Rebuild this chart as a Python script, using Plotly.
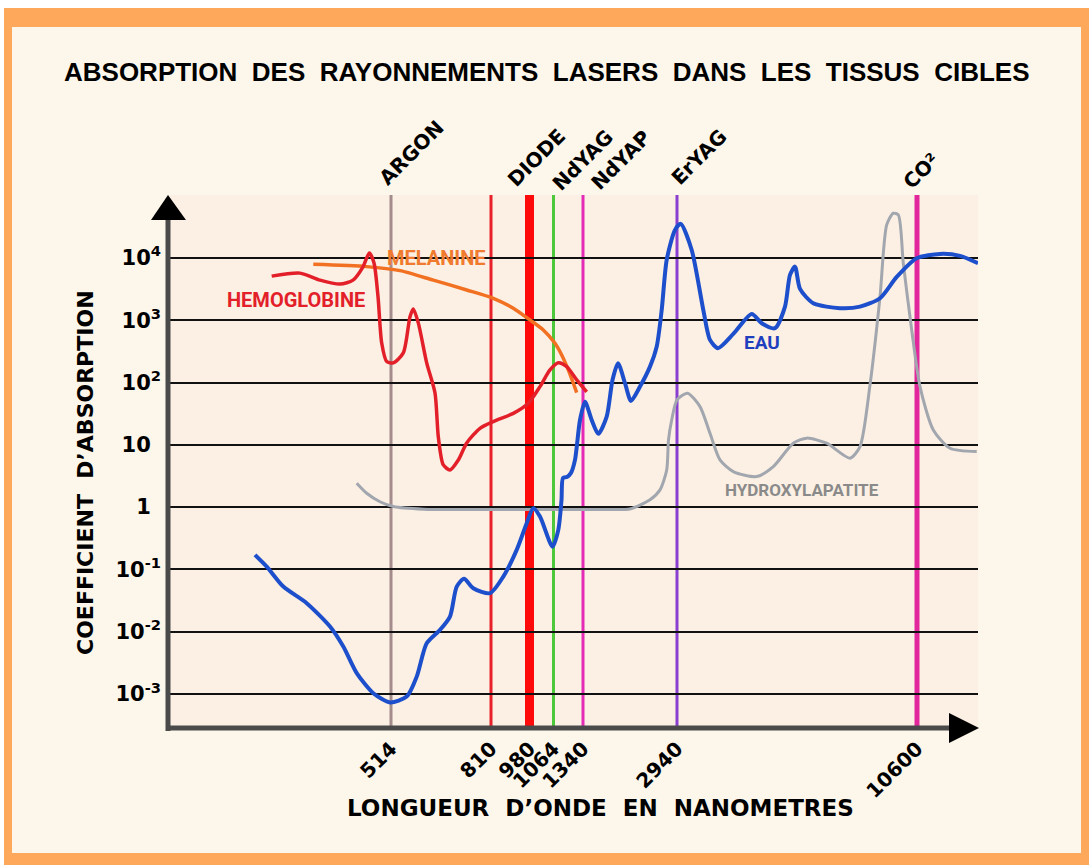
import plotly.graph_objects as go

# ------------------------------------------------------------------ data
TITLE = "ABSORPTION  DES  RAYONNEMENTS  LASERS  DANS  LES  TISSUS  CIBLES"
X_TITLE = "LONGUEUR  D’ONDE  EN  NANOMETRES"
Y_TITLE = "COEFFICIENT  D’ABSORPTION"

# schematic (non-linear) wavelength axis: position of each marked wavelength
WAVELENGTHS_NM = ["514", "810", "980", "1064", "1340", "2940", "10600"]
WAVELENGTH_POS = [22.1, 32.1, 35.95, 38.35, 41.3, 50.7, 74.7]

# laser lines (one per marked wavelength)
LASER_LINE_NM = ["514", "810", "980", "1064", "1340", "2940", "10600"]
LASER_NAMES = ["ARGON", "DIODE", "NdYAG", "NdYAP", "ErYAG", "CO²"]

# absorption coefficient decades
ABS_TICKS = [1e-3, 1e-2, 1e-1, 1, 10, 1e2, 1e3, 1e4]
PAD = "<sup><span style='color:rgba(0,0,0,0)'>0</span></sup>"
ABS_TICK_TEXT = ["10<sup>-3</sup>", "10<sup>-2</sup>", "10<sup>-1</sup>",
                 "1" + PAD, "10" + PAD,
                 "10<sup>2</sup>", "10<sup>3</sup>", "10<sup>4</sup>"]

# HEMOGLOBINE
HEMO_X = [10.17, 13.0, 15.0, 17.0, 18.3, 19.3, 19.93, 20.4, 20.8, 21.17,
          21.67, 22.33, 23.33, 24.0, 24.33, 24.83, 25.67, 26.5, 26.83, 27.33,
          28.0, 28.83, 29.67, 31.0, 32.33, 34.33, 35.83, 37.0, 38.0, 38.83,
          39.67, 40.67, 41.67]
HEMO_Y = [5.1e3, 5.7e3, 4.4e3, 3.8e3, 4.4e3, 7.2e3, 1.2e4, 8.3e3, 2.4e3, 430,
          217, 207, 299, 1140, 1520, 906, 207, 68, 13.5, 4.75,
          3.95, 5.7, 10.7, 18.4, 23.6, 32, 46.5, 86, 159, 208,
          180, 110, 71]

# MELANINE
MEL_X = [14.33, 19.67, 23.0, 26.33, 29.67, 32.33, 34.33, 36.0, 37.33, 38.5,
         39.17, 39.83, 40.67]
MEL_Y = [7.9e3, 7.25e3, 6.25e3, 4.4e3, 3.06e3, 2.25e3, 1.56e3, 1.01e3, 698, 427,
         277, 159, 69]

# EAU
EAU_X = [8.5, 9.67, 11.33, 13.67, 16.0, 17.33, 18.67, 20.33, 22.0, 23.67,
         24.67, 25.67, 27.0, 28.0, 28.67, 29.4, 30.33, 32.0, 33.33, 34.67,
         35.67, 36.33, 37.0, 38.25, 38.83, 39.15, 39.3, 39.7, 40.1, 40.5,
         41.0, 41.5, 42.17, 42.83, 43.67, 44.25, 44.8, 45.5, 46.1, 47.0,
         48.0, 48.67, 49.17, 49.67, 50.5, 51.07, 52.17, 53.33, 54.0, 54.8,
         56.33, 58.17, 59.17, 60.5, 61.5, 62.0, 62.5, 63.0, 64.33, 67.0,
         69.0, 71.0, 72.67, 74.67, 77.0, 79.0, 80.8]
EAU_Y = [0.171, 0.111, 0.053, 0.0287, 0.0121, 0.00577, 0.00216, 0.00103, 0.000733, 0.000908,
         0.0019, 0.00653, 0.0107, 0.0175, 0.053, 0.0705, 0.0499, 0.0415, 0.0766, 0.206,
         0.551, 0.96, 0.705, 0.232, 0.431, 1.3, 2.94, 3.05, 3.54, 5.72,
         25, 49, 25, 15, 28.4, 110, 204, 97.5, 50.7, 86,
         180, 377, 1460, 9300, 28100, 35200, 13400, 1460, 483, 356,
         603, 1260, 895, 744, 1650, 5330, 7250, 3180, 1870, 1560,
         1650, 2250, 4950, 9900, 11600, 10800, 8200]

# HYDROXYLAPATITE
HYD_X = [18.67, 19.67, 21.0, 22.33, 25.33, 33.67, 43.67, 46.0, 48.0, 49.0,
         49.67, 49.85, 50.17, 50.7, 51.75, 53.0, 54.0, 55.0, 56.33, 58.67,
         60.33, 62.33, 63.67, 65.67, 68.0, 69.0, 70.0, 71.0, 71.67, 72.33,
         72.83, 73.33, 74.17, 75.0, 76.33, 78.0, 80.67]
HYD_Y = [2.42, 1.67, 1.22, 1.02, 0.925, 0.918, 0.918, 0.935, 1.31, 1.89,
         3.95, 12, 25, 52.6, 67.3, 41, 15.3, 5.73, 3.72, 3.09,
         4.47, 10.6, 12.8, 10.6, 6.1, 9.35, 91.5, 2370, 33900, 52100,
         49000, 8200, 698, 86, 17.3, 8.8, 7.8]

# ------------------------------------------------------------------ style / layout
W, H = 1089, 865
def px(x):
    return x / W
def py(y):
    return 1 - y / H

MAIN_FONT = "DejaVu Sans, Verdana, sans-serif"
LABEL_FONT = "Roboto, Arial, sans-serif"
TITLE_FONT = "Liberation Sans, Arial, sans-serif"

LASER_STYLE = {
    "514": ("#A48C8C", 3),
    "810": ("#E8202A", 3),
    "980": ("#FF0A0A", 9),
    "1064": ("#4CC83A", 3),
    "1340": ("#E52BB5", 3),
    "2940": ("#8A3FD0", 3),
    "10600": ("#E2269C", 5),
}
# label centres (pixels) for the rotated laser names
LASER_LABEL_PX = [(411, 153), (536, 158), (583, 160), (621, 160), (699, 157), (921, 171)]

fig = go.Figure()

fig.add_trace(go.Scatter(x=HYD_X, y=HYD_Y, mode="lines",
                         line=dict(color="#A2A6AE", width=3, shape="spline", smoothing=0.7),
                         hoverinfo="skip", showlegend=False))
fig.add_trace(go.Scatter(x=MEL_X, y=MEL_Y, mode="lines",
                         line=dict(color="#F27022", width=3.5, shape="spline", smoothing=0.7),
                         hoverinfo="skip", showlegend=False))
fig.add_trace(go.Scatter(x=HEMO_X, y=HEMO_Y, mode="lines",
                         line=dict(color="#E3202A", width=3.5, shape="spline", smoothing=0.7),
                         hoverinfo="skip", showlegend=False))
fig.add_trace(go.Scatter(x=EAU_X, y=EAU_Y, mode="lines",
                         line=dict(color="#1D4FCC", width=4, shape="spline", smoothing=0.7),
                         hoverinfo="skip", showlegend=False))

shapes = []
# frame
shapes.append(dict(type="rect", xref="paper", yref="paper", x0=px(4), x1=1, y0=0, y1=py(8),
                   fillcolor="#FDA85B", line=dict(width=0), layer="below"))
shapes.append(dict(type="rect", xref="paper", yref="paper", x0=px(12), x1=px(1081), y0=py(853), y1=py(27),
                   fillcolor="#FDF6EA", line=dict(width=0), layer="below"))
# plot area tint
shapes.append(dict(type="rect", xref="x domain", yref="y domain", x0=0, x1=1, y0=0, y1=1,
                   fillcolor="#FBF0E3", line=dict(width=0), layer="below"))
# laser lines
for nm in LASER_LINE_NM:
    col, wid = LASER_STYLE[nm]
    xpos = WAVELENGTH_POS[WAVELENGTHS_NM.index(nm)]
    shapes.append(dict(type="line", xref="x", yref="y domain", x0=xpos, x1=xpos, y0=0, y1=1,
                       line=dict(color=col, width=wid), layer="below"))
# axes with arrows
AX_COL = "#4A4A4A"
shapes.append(dict(type="line", xref="paper", yref="paper", x0=px(168), x1=px(168),
                   y0=py(731), y1=py(214), line=dict(color=AX_COL, width=5), layer="above"))
shapes.append(dict(type="path", xref="paper", yref="paper",
                   path=f"M {px(168)} {py(195)} L {px(151)} {py(220)} L {px(186)} {py(220)} Z",
                   fillcolor="black", line=dict(width=0), layer="above"))
shapes.append(dict(type="line", xref="paper", yref="paper", x0=px(166), x1=px(955),
                   y0=py(728), y1=py(728), line=dict(color=AX_COL, width=5), layer="above"))
shapes.append(dict(type="path", xref="paper", yref="paper",
                   path=f"M {px(979)} {py(728)} L {px(949)} {py(713)} L {px(949)} {py(743)} Z",
                   fillcolor="black", line=dict(width=0), layer="above"))

annotations = []
annotations.append(dict(text=TITLE, xref="paper", yref="paper", x=px(547), y=py(72),
                        xanchor="center", yanchor="middle", showarrow=False,
                        font=dict(family=TITLE_FONT, size=26, color="black", weight="bold")))
annotations.append(dict(text=Y_TITLE, xref="paper", yref="paper", x=px(85), y=py(473),
                        xanchor="center", yanchor="middle", showarrow=False, textangle=-90,
                        font=dict(family=MAIN_FONT, size=22, color="black", weight="bold")))
annotations.append(dict(text=X_TITLE, xref="paper", yref="paper", x=px(600), y=py(808),
                        xanchor="center", yanchor="middle", showarrow=False,
                        font=dict(family=MAIN_FONT, size=23, color="black", weight="bold")))
for name, (cx, cy) in zip(LASER_NAMES, LASER_LABEL_PX):
    annotations.append(dict(text=name, xref="paper", yref="paper", x=px(cx), y=py(cy),
                            xanchor="center", yanchor="middle", showarrow=False, textangle=-45,
                            font=dict(family=MAIN_FONT, size=20, color="black", weight="bold")))
CURVE_LABELS = [("MELANINE", 436, 258, "#F07A2E", 20),
                ("HEMOGLOBINE", 296, 300, "#E3202A", 20),
                ("EAU", 762, 342, "#1F3FBF", 19),
                ("HYDROXYLAPATITE", 802, 490, "#8A8A8A", 17)]
for txt, cx, cy, col, sz in CURVE_LABELS:
    annotations.append(dict(text=txt, xref="paper", yref="paper", x=px(cx), y=py(cy),
                            xanchor="center", yanchor="middle", showarrow=False,
                            font=dict(family=LABEL_FONT, size=sz, color=col, weight="bold")))

fig.update_layout(
    width=W, height=H,
    margin=dict(l=0, r=0, t=0, b=0),
    paper_bgcolor="white",
    plot_bgcolor="rgba(0,0,0,0)",
    font=dict(family=MAIN_FONT, color="black"),
    shapes=shapes,
    annotations=annotations,
    showlegend=False,
    xaxis=dict(domain=[px(170), px(978)], range=[0, 80.8],
               showgrid=False, zeroline=False, showline=False,
               tickmode="array", tickvals=WAVELENGTH_POS, ticktext=WAVELENGTHS_NM,
               tickangle=-45, ticks="", ticklabelstandoff=4,
               tickfont=dict(family=MAIN_FONT, size=20, color="black", weight="bold")),
    yaxis=dict(domain=[py(728), py(195)], type="log", range=[-3.546, 5.01],
               showgrid=True, gridcolor="#111111", gridwidth=2,
               zeroline=False, showline=False,
               tickmode="array", tickvals=ABS_TICKS, ticktext=ABS_TICK_TEXT,
               ticks="", ticklabelstandoff=8,
               tickfont=dict(family=MAIN_FONT, size=21, color="black", weight="bold")),
)

fig.write_html("out.html", config={"displayModeBar": False},
               post_script="document.body.style.margin='0';document.body.style.overflow='hidden';")
